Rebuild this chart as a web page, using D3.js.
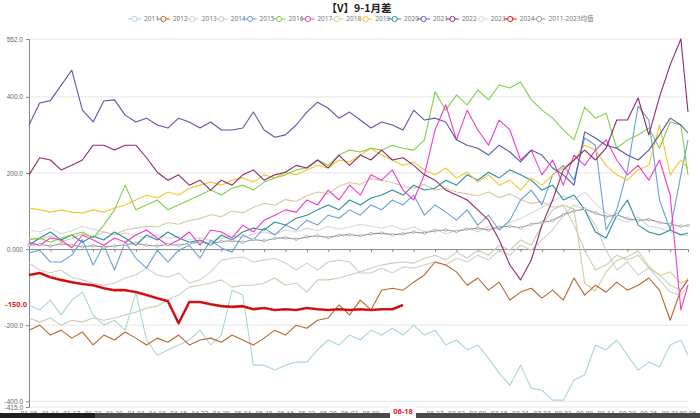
<!DOCTYPE html>
<html>
<head>
<meta charset="utf-8">
<script src="https://cdn.jsdelivr.net/npm/d3@7"></script>
<style>
  body { margin: 0; background: #fff; }
  svg { display: block; font-family: "Noto Sans", "Noto Sans CJK SC", sans-serif; }
</style>
</head>
<body>
<div id="chart"></div>
<script>
// tick labels on the date axis (category index of each label)
var xTickLabels = ["01-05","01-11","01-17","01-23","01-29","04-04","04-10","04-16","04-22","04-28",
  "05-04","05-10","05-16","05-22","05-28","06-03","06-09","06-15","06-21","06-27","07-03","07-09",
  "07-15","07-21","07-27","08-02","08-08","08-14","08-20","08-26","09-01","09-06"];
var xTickIdx = [0,6,12,18,24,30,36,42,48,54,60,66,72,78,84,90,96,102,108,114,120,126,132,138,144,150,156,162,168,174,180,185];
var yTicks = [552, 400, 200, 0, -200, -400, -415];
var yTickLabels = ["552.0", "400.0", "200.0", "0.000", "-200.0", "-400.0", "-415.0"];
var pointerIdx = 105, pointerLabel = "06-18";

var seriesNames = ["2011","2012","2013","2014","2015","2016","2017","2018","2019","2020","2021","2022","2023","2024","2011-2023均值"];
var seriesColors = ["#a8d8cf","#b8662f","#cfcfcf","#c4d2b2","#6aa0d8","#7fd04a","#f23ac9","#d8c99e","#f5c62e","#2b8f9a","#5a58a8","#8e2a6e","#d9d9d9","#e8191c","#9a9a9a"];

// values sampled every 3rd trading day (last point = 09-06)
var v2011 = [-147,-160,-134,-173,-134,-113,-173,-200,-187,-213,-113,-239,-279,-265,-252,-239,-213,-252,-226,-108,-121,-305,-305,-318,-305,-297,-297,-265,-239,-252,-226,-239,-213,-226,-208,-226,-200,-226,-213,-252,-239,-265,-252,-287,-326,-358,-305,-366,-371,-397,-397,-344,-331,-252,-265,-239,-279,-318,-297,-310,-252,-239,-279];
var v2012 = [-213,-200,-226,-213,-234,-218,-252,-226,-239,-218,-234,-252,-234,-245,-226,-252,-239,-234,-245,-226,-239,-252,-234,-213,-226,-200,-208,-187,-181,-147,-173,-134,-160,-108,-103,-108,-87,-68,-34,-42,-60,-95,-76,-108,-87,-134,-113,-103,-129,-108,-134,-76,-121,-95,-113,-87,-108,-95,-76,-108,-187,-108,-81];
var v2013 = [-37,-55,-63,-55,-74,-81,-89,-95,-89,-76,-68,-50,-68,-74,-63,-89,-81,-60,-29,-24,-21,-34,-29,-24,-37,-55,-37,-55,-34,-29,-34,-63,-63,-50,-63,-47,-50,-42,-34,-42,-24,-34,-16,-29,-3,-16,10,-3,24,50,89,116,103,63,-3,-55,-34,-68,-50,-81,-113,-121,-95];
var v2014 = [-181,-192,-181,-200,-187,-192,-181,-187,-181,-173,-166,-155,-150,-134,-121,-100,-95,-89,-81,-100,-95,-95,-89,-76,-95,-89,-113,-81,-81,-76,-68,-60,-50,-42,-37,-34,-37,-24,-16,-29,-8,-24,-3,-16,10,-3,24,10,63,103,116,63,-3,-55,-42,-16,-29,-16,-50,-68,-95,-108,-76];
var v2015 = [-10,-3,-34,-34,-16,24,-42,10,-55,18,-24,-50,-3,-34,-3,10,-24,24,3,-8,37,24,55,37,63,50,76,63,89,81,103,89,116,103,129,116,142,89,116,97,76,103,63,89,50,76,129,155,116,195,220,181,292,273,50,103,208,376,339,129,50,195,287];
var v2016 = [24,29,18,29,37,45,29,63,103,168,103,116,129,103,116,129,142,155,142,160,168,155,176,187,195,208,213,234,220,247,260,255,265,260,273,265,260,287,413,365,405,379,418,392,431,423,439,392,365,344,313,287,373,344,357,265,287,300,318,265,334,326,195];
var v2017 = [18,10,29,24,3,37,24,10,29,18,37,50,29,10,24,45,10,50,45,29,63,45,76,89,103,97,129,116,155,129,168,142,195,181,208,155,129,195,313,379,287,365,313,273,339,313,234,260,195,234,168,247,220,260,287,234,195,220,181,234,142,-160,-95];
var v2018 = [30,25,35,20,28,40,32,45,38,50,55,60,58,70,65,75,80,90,85,100,95,110,120,115,130,125,140,150,145,165,175,170,185,180,175,165,160,170,155,160,150,145,140,150,135,145,130,120,125,110,115,105,-90,-110,-60,-30,-20,-5,-45,-70,-60,-90,-80];
var v2019 = [108,103,97,103,97,95,103,97,108,116,129,142,134,150,142,160,168,176,168,181,187,176,195,187,202,195,208,220,213,234,229,247,265,247,234,220,229,208,195,213,187,202,176,195,168,181,155,187,168,195,213,234,273,260,220,195,181,208,220,326,195,234,213];
var v2020 = [10,29,45,24,37,18,34,24,45,29,10,37,24,45,29,18,24,10,37,24,45,55,50,71,63,81,89,103,116,103,129,116,134,142,155,142,168,155,160,181,168,195,181,202,187,208,195,181,155,168,129,142,103,45,29,89,129,63,45,37,50,37,42];
var v2021 = [326,384,390,430,470,365,334,389,392,352,334,344,326,318,344,334,318,334,313,313,318,360,313,294,300,326,360,386,370,344,360,339,318,334,326,313,365,339,344,334,287,273,265,247,273,255,229,260,247,213,195,168,308,292,273,265,247,234,260,300,344,326,305];
var v2022 = [195,240,234,208,220,234,273,273,260,273,273,240,202,181,195,168,181,155,181,168,195,208,181,195,202,220,213,234,213,247,220,247,234,260,234,240,220,195,181,155,142,129,103,76,24,-42,-81,-29,63,129,208,234,260,234,265,339,339,397,300,400,484,552,360];
var v2023 = [50,45,55,40,48,60,52,45,38,42,35,30,38,28,32,25,30,22,28,35,30,40,45,38,50,45,55,48,60,52,58,65,60,55,62,50,58,45,52,40,48,55,45,60,52,70,80,95,110,125,140,130,150,120,95,80,70,85,60,55,45,40,35];
var v2024 = [-68,-63,-74,-81,-87,-92,-95,-103,-108,-108,-113,-121,-129,-137,-195,-139,-139,-145,-150,-152,-150,-158,-155,-160,-158,-160,-155,-158,-160,-158,-160,-158,-160,-158,-158,-147];
var vAvg = [10,12,8,14,10,6,9,5,8,12,15,10,8,12,10,15,18,14,20,22,18,25,22,28,30,26,32,35,30,36,38,35,40,42,38,40,45,42,48,50,46,52,55,50,58,60,56,65,70,75,90,100,105,95,85,90,80,75,78,70,65,60,62];

var seriesValues = [v2011, v2012, v2013, v2014, v2015, v2016, v2017, v2018, v2019, v2020, v2021, v2022, v2023, v2024, vAvg];

var W = 700, H = 418;
var svg = d3.select("#chart").append("svg").attr("width", W).attr("height", H);

var x = d3.scaleLinear().domain([0, 185]).range([29, 688]);
var y = d3.scaleLinear().domain([-415, 552]).range([407, 39]);

// sample position of point i (every 3rd day, last one on 09-06)
function idxOf(i, n) { return (n === 63 && i === 62) ? 185 : i * 3; }

// title
svg.append("text")
  .attr("x", 359).attr("y", 12)
  .attr("text-anchor", "middle")
  .style("font-family", "'Noto Sans CJK SC', sans-serif")
  .style("font-size", "10.5px").style("font-weight", "bold").attr("fill", "#222")
  .text("【V】9-1月差");

// legend
var leg = svg.append("g").selectAll("g").data(seriesNames).enter().append("g")
  .attr("transform", function(d, i) { return "translate(" + (128 + i * 28.9) + ",19)"; });
leg.append("line").attr("x1", 0).attr("x2", 13).attr("y1", 0).attr("y2", 0)
  .attr("stroke", function(d, i) { return seriesColors[i]; }).attr("stroke-width", 1);
leg.append("circle").attr("cx", 6.5).attr("cy", 0).attr("r", 2.6)
  .attr("fill", "#fff").attr("stroke", function(d, i) { return seriesColors[i]; });
leg.append("text").attr("x", 16).attr("y", 2.3)
  .style("font-size", "6.5px").attr("fill", "#777")
  .text(function(d) { return d; });

// gridlines
svg.append("g").selectAll("line").data(yTicks.filter(function(t) { return t !== 0; })).enter().append("line")
  .attr("x1", 29).attr("x2", 688)
  .attr("y1", function(d) { return y(d); }).attr("y2", function(d) { return y(d); })
  .attr("stroke", "#e6e6e6").attr("stroke-width", 1);

// y axis
var yAxis = svg.append("g").attr("transform", "translate(29,0)")
  .call(d3.axisLeft(y).tickValues(yTicks).tickSize(3)
    .tickFormat(function(d, i) { return yTickLabels[i]; }));
yAxis.select(".domain").attr("stroke", "#888");
yAxis.selectAll(".tick line").attr("stroke", "#888");
yAxis.selectAll("text").style("font-size", "6.5px").attr("fill", "#666");

// x axis line on zero
var xAxis = svg.append("g").attr("transform", "translate(0," + y(0) + ")")
  .call(d3.axisBottom(x).tickValues(xTickIdx).tickSize(3).tickFormat(""));
xAxis.select(".domain").attr("stroke", "#888");
xAxis.selectAll(".tick line").attr("stroke", "#888");

// lines
var line = d3.line()
  .x(function(d) { return x(d.i); })
  .y(function(d) { return y(d.v); });

function pts(vals) {
  return vals.map(function(v, i) { return { i: idxOf(i, vals.length), v: v }; });
}

var drawOrder = [2, 12, 3, 7, 0, 1, 14, 4, 9, 8, 5, 6, 10, 11];
drawOrder.forEach(function(s) {
  svg.append("path").datum(pts(seriesValues[s]))
    .attr("fill", "none").attr("stroke", seriesColors[s])
    .attr("stroke-width", 1.1).attr("stroke-linejoin", "round")
    .attr("d", line);
});

// average markers
svg.append("g").selectAll("circle").data(pts(vAvg)).enter().append("circle")
  .attr("cx", function(d) { return x(d.i); }).attr("cy", function(d) { return y(d.v); })
  .attr("r", 1.3).attr("fill", "#fff").attr("stroke", "#9a9a9a").attr("stroke-width", 0.8);

// 2024 thick dotted line
svg.append("path").datum(pts(v2024))
  .attr("fill", "none").attr("stroke", "#e8191c").attr("stroke-width", 2.6)
  .attr("stroke-linejoin", "round").attr("d", line);
svg.append("path").datum(pts(v2024))
  .attr("fill", "none").attr("stroke", "#7a0808").attr("stroke-width", 1)
  .attr("stroke-dasharray", "1.5,1.5").attr("d", line);

// red value label on y axis
svg.append("text").attr("x", 27).attr("y", y(-150) + 1)
  .attr("text-anchor", "end")
  .style("font-size", "7.5px").style("font-weight", "bold").attr("fill", "#e8191c")
  .text("-150.0");

// x labels at the bottom (the two under the pointer label are hidden by it)
svg.append("g").selectAll("text")
  .data(xTickLabels.filter(function(d, i) { return Math.abs(xTickIdx[i] - pointerIdx) > 4; }))
  .enter().append("text")
  .attr("x", function(d) { return x(xTickIdx[xTickLabels.indexOf(d)]); }).attr("y", 416)
  .attr("text-anchor", "middle")
  .style("font-size", "6.5px").attr("fill", "#777")
  .text(function(d) { return d; });

// dark band at the bottom edge
svg.append("rect").attr("x", 0).attr("y", 413).attr("width", 95).attr("height", 5).attr("fill", "#1e1e1e");
svg.append("rect").attr("x", 95).attr("y", 413).attr("width", 605).attr("height", 5).attr("fill", "#4a4a4a");

// pointer label 06-18
svg.append("rect").attr("x", x(pointerIdx) - 13).attr("y", 405).attr("width", 26).attr("height", 13).attr("fill", "#fff");
svg.append("text").attr("x", x(pointerIdx)).attr("y", 414)
  .attr("text-anchor", "middle")
  .style("font-size", "7.5px").style("font-weight", "bold").attr("fill", "#e8191c")
  .text(pointerLabel);
</script>
</body>
</html>
